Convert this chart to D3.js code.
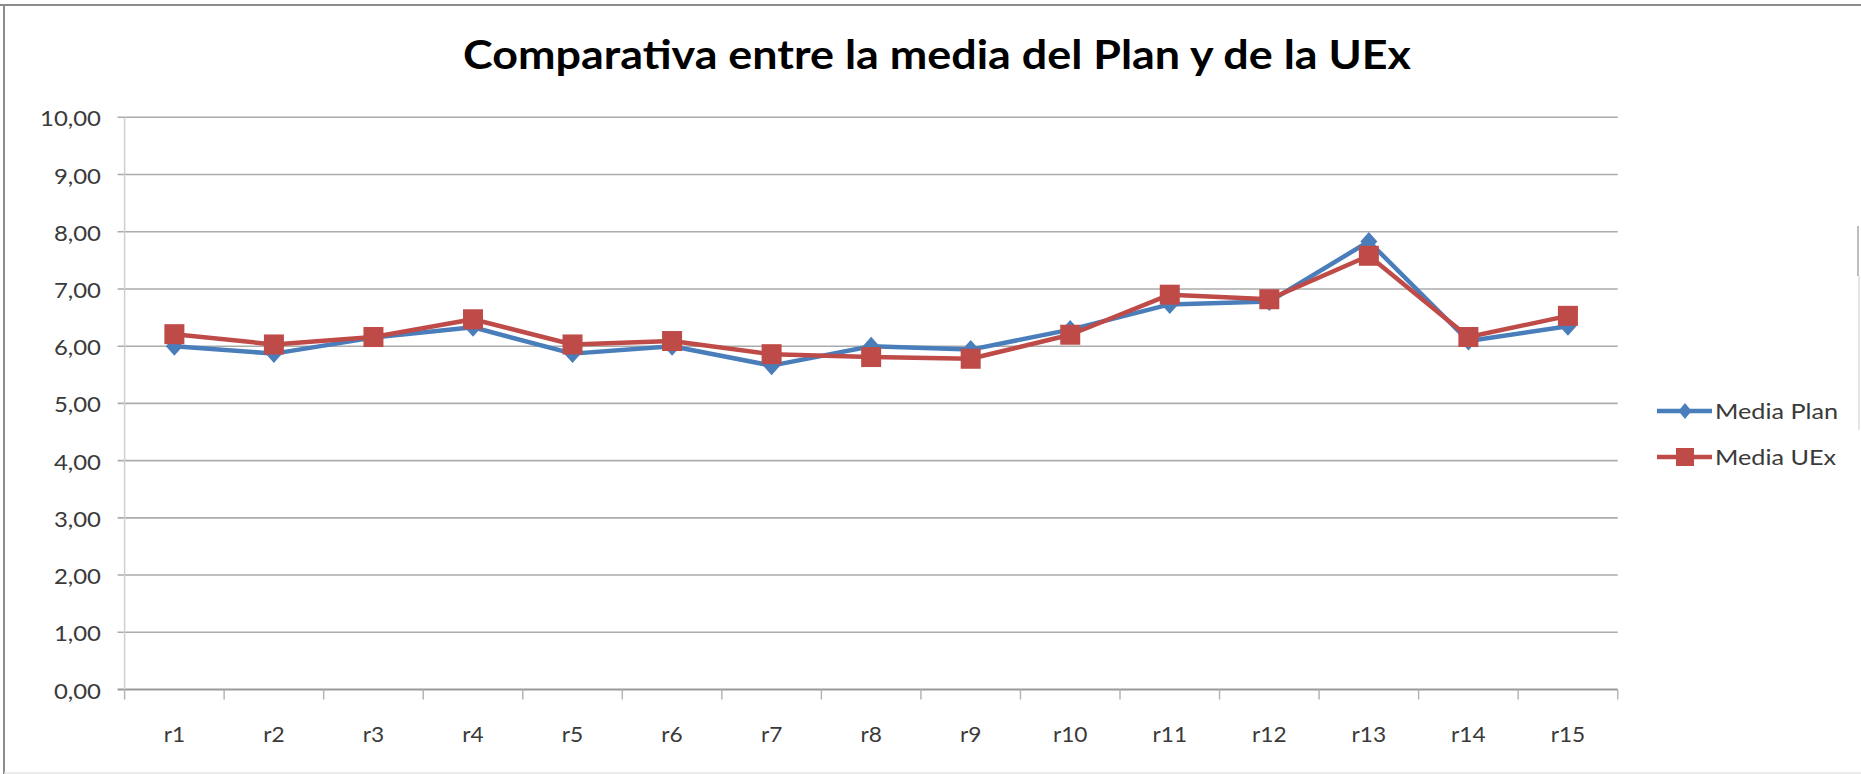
<!DOCTYPE html>
<html>
<head>
<meta charset="utf-8">
<script src="https://cdn.jsdelivr.net/npm/d3@7"></script>
<style>
  body { margin: 0; background: #fff; }
  text { font-family: Lato, "Open Sans", sans-serif; }
</style>
</head>
<body>
<svg id="chart" width="1861" height="774"></svg>
<script>
// data
var categories = ["r1", "r2", "r3", "r4", "r5", "r6", "r7", "r8", "r9", "r10", "r11", "r12", "r13", "r14", "r15"];
var mediaPlan = [6.00, 5.87, 6.15, 6.33, 5.87, 6.00, 5.66, 6.00, 5.94, 6.29, 6.73, 6.78, 7.83, 6.09, 6.35];
var mediaUEx = [6.21, 6.03, 6.16, 6.47, 6.03, 6.09, 5.86, 5.81, 5.78, 6.20, 6.90, 6.82, 7.58, 6.16, 6.53];
var yTicks = [0, 1, 2, 3, 4, 5, 6, 7, 8, 9, 10];
var seriesNames = ["Media Plan", "Media UEx"];
var chartTitle = "Comparativa entre la media del Plan y de la UEx";

var width = 1861,
    height = 774,
    plot = {left: 124.6, right: 1617.7, top: 117.3, bottom: 689.5};

var blue = "#4a7ebb",
    red = "#be4b48",
    gridColor = "#ababab",
    SX = 1.14; // the original picture is stretched sideways

var locale = d3.formatLocale({decimal: ",", thousands: ".", grouping: [3], currency: ["", " €"]});
var fmt = locale.format(".2f");

var svg = d3.select("#chart");

// stretch text horizontally like the source image
var stretch = function(sel, f) {
  sel.each(function() {
    var w = this.getComputedTextLength();
    d3.select(this).attr("textLength", w * f).attr("lengthAdjust", "spacingAndGlyphs");
  });
};

var x = d3.scaleBand()
    .domain(categories)
    .range([plot.left, plot.right])
    .paddingInner(0)
    .paddingOuter(0);

var y = d3.scaleLinear()
    .domain([0, 10])
    .range([plot.bottom, plot.top]);

var cx = function(c) { return x(c) + x.bandwidth() / 2; };

// outer frame
svg.append("line").attr("x1", 0).attr("x2", width).attr("y1", 5).attr("y2", 5)
    .attr("stroke", "#8c8c8c").attr("stroke-width", 2);
svg.append("line").attr("x1", 4).attr("x2", 4).attr("y1", 5).attr("y2", height)
    .attr("stroke", "#8c8c8c").attr("stroke-width", 2);
svg.append("line").attr("x1", 4).attr("x2", width).attr("y1", 773).attr("y2", 773)
    .attr("stroke", "#e4e4e4").attr("stroke-width", 1.5);
svg.append("line").attr("x1", 1858).attr("x2", 1858).attr("y1", 226).attr("y2", 276)
    .attr("stroke", "#a8a8a8").attr("stroke-width", 1.5);
svg.append("line").attr("x1", 1859).attr("x2", 1859).attr("y1", 276).attr("y2", 430)
    .attr("stroke", "#dcdcdc").attr("stroke-width", 1.5);

// title
svg.append("text")
    .attr("x", 937)
    .attr("y", 69)
    .attr("text-anchor", "middle")
    .style("font-size", "41px")
    .style("font-weight", "bold")
    .attr("fill", "#000")
    .attr("textLength", 948)
    .attr("lengthAdjust", "spacingAndGlyphs")
    .text(chartTitle);

// gridlines
svg.append("g")
    .selectAll("line")
    .data(yTicks)
  .enter().append("line")
    .attr("x1", plot.left - 7)
    .attr("x2", plot.right)
    .attr("y1", function(d) { return y(d); })
    .attr("y2", function(d) { return y(d); })
    .attr("stroke", function(d) { return d === 0 ? "#999" : gridColor; })
    .attr("stroke-width", function(d) { return d === 0 ? 2 : 1.6; });

// y axis line
svg.append("line")
    .attr("x1", plot.left).attr("x2", plot.left)
    .attr("y1", plot.top).attr("y2", plot.bottom)
    .attr("stroke", "#cfcfcf").attr("stroke-width", 1.5);

// y labels
var yLabels = svg.append("g")
    .selectAll("text")
    .data(yTicks)
  .enter().append("text")
    .attr("x", 101)
    .attr("y", function(d) { return y(d) + 9; })
    .attr("text-anchor", "end")
    .style("font-size", "21px")
    .attr("fill", "#3a3a3a")
    .text(function(d) { return fmt(d); });
stretch(yLabels, SX);

// x ticks at the band edges
var edges = categories.map(function(c) { return x(c); }).concat([plot.right]);
svg.append("g")
    .selectAll("line")
    .data(edges)
  .enter().append("line")
    .attr("x1", function(d) { return d; })
    .attr("x2", function(d) { return d; })
    .attr("y1", plot.bottom)
    .attr("y2", plot.bottom + 10)
    .attr("stroke", "#b5b5b5")
    .attr("stroke-width", 1.5);

var xLabels = svg.append("g")
    .selectAll("text")
    .data(categories)
  .enter().append("text")
    .attr("x", cx)
    .attr("y", 742)
    .attr("text-anchor", "middle")
    .style("font-size", "21px")
    .attr("fill", "#3a3a3a")
    .text(function(d) { return d; });
stretch(xLabels, 1.08);

// series
var diamond = function(px, py, hw, hh) {
  return "M" + px + "," + (py - hh) + "L" + (px + hw) + "," + py + "L" + px + "," + (py + hh) + "L" + (px - hw) + "," + py + "Z";
};

var line = d3.line()
    .x(function(d, i) { return cx(categories[i]); })
    .y(function(d) { return y(d); });

svg.append("path")
    .datum(mediaPlan)
    .attr("d", line)
    .attr("fill", "none")
    .attr("stroke", blue)
    .attr("stroke-width", 4.5)
    .attr("stroke-linejoin", "round");

svg.append("g")
    .selectAll("path")
    .data(mediaPlan)
  .enter().append("path")
    .attr("d", function(d, i) { return diamond(cx(categories[i]), y(d), 8.5, 9.5); })
    .attr("fill", blue);

svg.append("path")
    .datum(mediaUEx)
    .attr("d", line)
    .attr("fill", "none")
    .attr("stroke", red)
    .attr("stroke-width", 4.5)
    .attr("stroke-linejoin", "round");

svg.append("g")
    .selectAll("rect")
    .data(mediaUEx)
  .enter().append("rect")
    .attr("x", function(d, i) { return cx(categories[i]) - 10; })
    .attr("y", function(d) { return y(d) - 10; })
    .attr("width", 20)
    .attr("height", 20)
    .attr("fill", red);

// legend
var legend = svg.append("g");
var legendY = [411, 457];
var colors = [blue, red];

seriesNames.forEach(function(name, i) {
  legend.append("line")
    .attr("x1", 1657).attr("x2", 1712)
    .attr("y1", legendY[i]).attr("y2", legendY[i])
    .attr("stroke", colors[i])
    .attr("stroke-width", 4.5);
  if (i === 0) {
    legend.append("path")
      .attr("d", diamond(1685, legendY[i], 6.5, 8))
      .attr("fill", blue);
  } else {
    legend.append("rect")
      .attr("x", 1676).attr("y", legendY[i] - 9)
      .attr("width", 18).attr("height", 18)
      .attr("fill", red);
  }
  var t = legend.append("text")
    .attr("x", 1715)
    .attr("y", legendY[i] + 7.5)
    .style("font-size", "21px")
    .attr("fill", "#3a3a3a")
    .text(name);
  stretch(t, 1.2);
});
</script>
</body>
</html>
